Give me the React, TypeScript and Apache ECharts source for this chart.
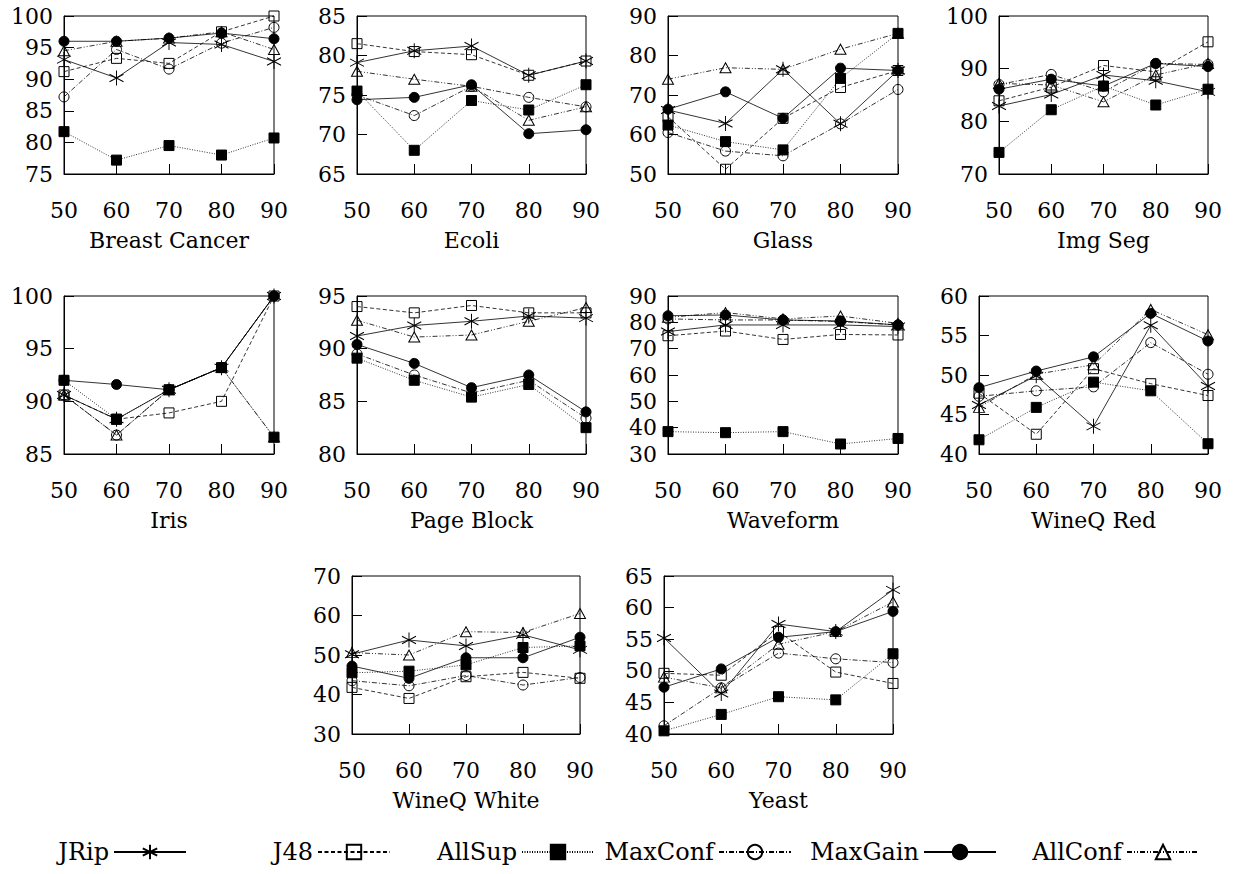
import React, { useEffect, useRef } from 'react';
import * as echarts from 'echarts';

const xTicks = [50, 60, 70, 80, 90];
const methodNames = ['JRip', 'J48', 'AllSup', 'MaxConf', 'MaxGain', 'AllConf'];
const datasetNames = ['Breast Cancer', 'Ecoli', 'Glass', 'Img Seg', 'Iris', 'Page Block', 'Waveform', 'WineQ Red', 'WineQ White', 'Yeast'];
const yMin = [75, 65, 50, 70, 85, 80, 30, 40, 30, 40];
const yMax = [100, 85, 90, 100, 100, 95, 90, 60, 70, 65];
const yStep = [5, 5, 10, 10, 5, 5, 10, 5, 10, 5];

// rows in order: JRip, J48, AllSup, MaxConf, MaxGain, AllConf
const breastCancer = [
  [93.1, 90.2, 95.8, 95.5, 92.8],
  [91.2, 93.3, 92.5, 97.5, 100],
  [81.7, 77.2, 79.5, 78.0, 80.7],
  [87.2, 94.7, 91.6, 95.7, 98.2],
  [96.0, 96.0, 96.5, 97.3, 96.4],
  [94.5, 96.0, 96.5, 97.5, 94.7],
];
const ecoli = [
  [79.1, 80.6, 81.2, 77.5, 79.3],
  [81.5, 80.5, 80.1, 77.5, 79.3],
  [75.5, 68.0, 74.3, 73.1, 76.3],
  [75.0, 72.4, 76.1, 74.7, 73.5],
  [74.4, 74.7, 76.3, 70.1, 70.6],
  [78.0, 77.0, 76.1, 71.8, 73.5],
];
const glass = [
  [66.2, 62.8, 76.5, 62.7, 76.2],
  [64.5, 51.2, 64.1, 71.9, 76.2],
  [62.4, 58.2, 56.1, 74.2, 85.6],
  [60.5, 55.8, 54.6, 62.7, 71.4],
  [66.4, 70.8, 64.1, 76.8, 76.2],
  [74.0, 76.9, 76.5, 81.6, 85.6],
];
const imgSeg = [
  [82.9, 85.1, 88.8, 87.7, 85.6],
  [83.9, 86.5, 90.6, 89.4, 95.1],
  [74.1, 82.2, 86.7, 83.1, 86.1],
  [87.0, 88.9, 85.6, 91.0, 90.8],
  [86.1, 88.0, 86.7, 91.0, 90.4],
  [87.2, 86.9, 83.7, 88.8, 91.0],
];
const iris = [
  [90.6, 88.3, 91.1, 93.2, 100],
  [90.6, 88.3, 88.9, 90.0, 100],
  [92.0, 88.3, 91.1, 93.2, 86.6],
  [90.6, 86.8, 91.1, 93.2, 100],
  [92.0, 91.6, 91.1, 93.2, 100],
  [90.6, 86.8, 91.1, 93.2, 86.6],
];
const pageBlock = [
  [91.2, 92.2, 92.6, 93.1, 92.9],
  [94.0, 93.4, 94.1, 93.4, 93.4],
  [89.1, 87.0, 85.4, 86.6, 82.5],
  [89.5, 87.5, 85.8, 87.0, 83.4],
  [90.4, 88.6, 86.3, 87.5, 84.0],
  [92.7, 91.1, 91.3, 92.6, 93.9],
];
const waveform = [
  [76.5, 79.0, 79.0, 79.0, 78.4],
  [74.9, 76.7, 73.5, 75.4, 75.2],
  [38.5, 38.1, 38.5, 33.8, 35.9],
  [81.3, 80.9, 80.9, 80.3, 79.0],
  [82.5, 82.8, 80.9, 80.5, 79.0],
  [81.9, 83.7, 81.3, 82.4, 79.6],
];
const wineQRed = [
  [46.2, 49.9, 43.5, 56.3, 48.6],
  [47.7, 42.5, 50.8, 48.9, 47.4],
  [41.8, 45.9, 49.1, 48.0, 41.3],
  [47.3, 48.0, 48.5, 54.1, 50.1],
  [48.4, 50.5, 52.3, 57.8, 54.3],
  [45.9, 50.1, 51.3, 58.3, 55.1],
];
const wineQWhite = [
  [50.2, 53.8, 52.3, 55.1, 51.3],
  [41.8, 39.0, 44.5, 45.6, 44.1],
  [45.5, 45.9, 47.5, 51.9, 52.3],
  [43.5, 42.2, 44.8, 42.4, 44.3],
  [47.2, 44.1, 49.3, 49.3, 54.5],
  [50.6, 50.0, 55.9, 55.7, 60.5],
];
const yeast = [
  [55.2, 46.4, 57.4, 56.2, 62.8],
  [49.6, 49.3, 56.2, 49.8, 48.0],
  [40.5, 43.1, 45.9, 45.4, 52.7],
  [41.3, 47.3, 52.8, 51.9, 51.3],
  [47.4, 50.3, 55.3, 56.2, 59.4],
  [49.0, 47.3, 54.2, 56.2, 60.9],
];

const allData = [breastCancer, ecoli, glass, imgSeg, iris, pageBlock, waveform, wineQRed, wineQWhite, yeast];

// layout (pixels)
const panelLayout = [
  { left: 64, top: 16, width: 210 },
  { left: 357, top: 16, width: 229 },
  { left: 668, top: 16, width: 230 },
  { left: 999, top: 16, width: 209 },
  { left: 64, top: 296, width: 210 },
  { left: 357, top: 296, width: 229 },
  { left: 668, top: 296, width: 230 },
  { left: 979, top: 296, width: 229 },
  { left: 352, top: 576, width: 228 },
  { left: 664, top: 576, width: 229 },
];
const PANEL_H = 158;
const legendEnds = [192, 396, 600, 797, 1002, 1205];

const FONT = "'DejaVu Serif', serif";
const ASTERISK = 'path://M0,-10L0,10M-8.66,-5L8.66,5M-8.66,5L8.66,-5';

const seriesStyle = [
  { symbol: ASTERISK, size: [14, 15], fill: 'none', line: 'solid' },
  { symbol: 'rect', size: 10, fill: 'none', line: [4, 2.5] },
  { symbol: 'rect', size: 10, fill: '#000', line: [1, 1.5] },
  { symbol: 'circle', size: 10, fill: 'none', line: [5, 2, 1, 2] },
  { symbol: 'circle', size: 10, fill: '#000', line: 'solid' },
  { symbol: 'triangle', size: [11, 10], fill: 'none', line: [5, 2, 1, 2, 1, 2] },
];

export default function App() {
  const ref = useRef<HTMLDivElement>(null);
  useEffect(() => {
    if (!ref.current) return;
    const chart = echarts.init(ref.current, undefined, { renderer: 'svg' });
    const grid = panelLayout.map((p) => ({
      left: p.left,
      top: p.top,
      width: p.width,
      height: PANEL_H,
      show: true,
      borderColor: '#000',
      borderWidth: 1,
      backgroundColor: 'transparent',
    }));
    const xAxis = panelLayout.map((_, i) => ({
      type: 'value',
      gridIndex: i,
      min: 50,
      max: 90,
      interval: 10,
      name: datasetNames[i],
      nameLocation: 'middle',
      nameGap: 55,
      nameTextStyle: { fontFamily: FONT, fontSize: 22, color: '#000' },
      axisLine: { show: true, lineStyle: { color: '#000', width: 1 } },
      axisTick: { show: true, inside: true, length: 10, lineStyle: { color: '#000', width: 1 } },
      axisLabel: { margin: 25, fontFamily: FONT, fontSize: 22, color: '#000' },
      splitLine: { show: false },
    }));
    const yAxis = panelLayout.map((_, i) => ({
      type: 'value',
      gridIndex: i,
      min: yMin[i],
      max: yMax[i],
      interval: yStep[i],
      axisLine: { show: true, lineStyle: { color: '#000', width: 1 } },
      axisTick: { show: true, inside: true, length: 10, lineStyle: { color: '#000', width: 1 } },
      axisLabel: { margin: 11, fontFamily: FONT, fontSize: 22, color: '#000' },
      splitLine: { show: false },
    }));
    const series: any[] = [];
    allData.forEach((ds, i) => {
      ds.forEach((vals, j) => {
        const st = seriesStyle[j];
        series.push({
          type: 'line',
          name: methodNames[j],
          xAxisIndex: i,
          yAxisIndex: i,
          data: xTicks.map((x, k) => [x, vals[k]]),
          symbol: st.symbol,
          symbolSize: st.size,
          showSymbol: true,
          clip: false,
          z: 2 + j,
          lineStyle: { color: '#000', width: 0.8, type: st.line },
          itemStyle: { color: st.fill, borderColor: '#000', borderWidth: 1 },
          emphasis: { disabled: true },
        });
      });
    });
    const legend = methodNames.map((name, j) => ({
      data: [name],
      align: 'right',
      right: 1235 - legendEnds[j],
      top: 835,
      itemWidth: 72,
      itemHeight: 18,
      selectedMode: false,
      textStyle: { fontFamily: FONT, fontSize: 24, color: '#000' },
    }));
    chart.setOption({
      animation: false,
      backgroundColor: '#fff',
      grid,
      xAxis,
      yAxis,
      series,
      legend,
    });
    return () => chart.dispose();
  }, []);
  return (
    <div
      ref={ref}
      style={{ position: 'fixed', left: 0, top: 0, width: 1235, height: 874, background: '#fff' }}
    />
  );
}
